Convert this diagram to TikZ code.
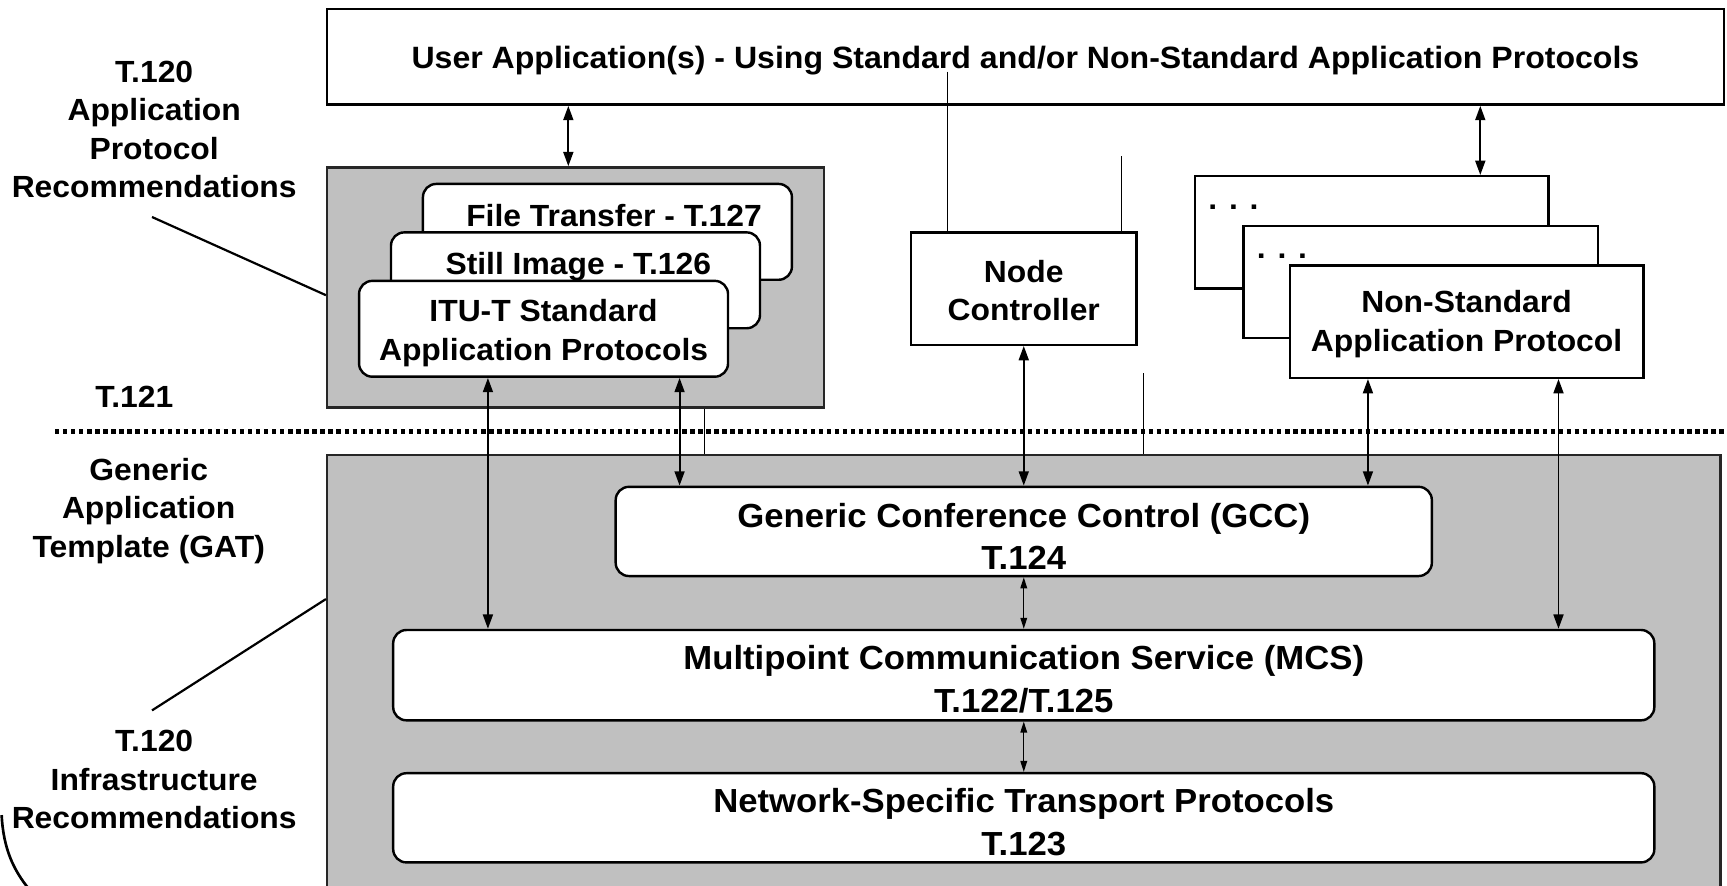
\documentclass[tikz,border=0pt]{standalone}
\usepackage{fontspec}
\setmainfont{Liberation Sans}[FakeStretch=1.04]
\usetikzlibrary{arrows.meta}
\definecolor{boxgray}{HTML}{C0C0C0}
\tikzset{
  lbl/.style={font=\bfseries\fontsize{27.8}{35}\selectfont, align=center, inner sep=0pt},
  big/.style={font=\bfseries\fontsize{30.3}{39}\selectfont, align=center, inner sep=0pt},
  sq/.style={draw=black, line width=2.2pt, fill=white, inner sep=0pt},
  rnd/.style={sq, rounded corners=12pt},
  graybox/.style={draw=black!85, line width=2.2pt, fill=boxgray, inner sep=0pt},
  dbl/.style={line width=1.8pt, {Triangle[length=13pt,width=9pt]}-{Triangle[length=13pt,width=9pt]}},
  sdbl/.style={line width=1.3pt, {Triangle[length=10pt,width=6pt]}-{Triangle[length=10pt,width=6pt]}},
  hair/.style={line width=1pt},
  callout/.style={line width=2pt},
  sepline/.style={line width=4.5pt, dash pattern=on 3.9pt off 3.4pt},
}
\begin{document}
\begin{tikzpicture}[x=1pt, y=-1pt]
\useasboundingbox (0,0) rectangle (1568,804);
% gray containers
\node[graybox, minimum width=451pt, minimum height=218pt] (appbox) at (522.5,261) {};
\node[graybox, minimum width=1265pt, minimum height=417pt] (gat) at (929.5,621.5) {};
% user application
\node[sq, minimum width=1268pt, minimum height=87pt] (ua) at (931,51.5) {};
\node[lbl, font=\bfseries\fontsize{28}{35}\selectfont] (uat) at (931,55) {User Application(s) - Using Standard and/or Non-Standard Application Protocols};
% standard application protocol stack
\node[rnd, minimum width=335pt, minimum height=87pt] (ft) at (551.5,210.5) {};
\node[lbl] (ftt) at (557.5,195.5) {File Transfer - T.127};
\node[rnd, minimum width=335pt, minimum height=87pt] (si) at (522.5,254.5) {};
\node[lbl] (sit) at (525,242) {Still Image - T.126};
\node[rnd, minimum width=335pt, minimum height=87pt] (itu) at (493.5,298.5) {};
\node[lbl] (itut) at (493.5,302.5) {ITU-T Standard\\Application Protocols};
% node controller
\node[sq, minimum width=205pt, minimum height=102pt] (nc) at (929.5,262) {};
\node[lbl] (nct) at (929.5,264) {Node\\Controller};
% non-standard stack
\node[sq, minimum width=321pt, minimum height=102pt] (nsb) at (1245.5,211) {};
\node[lbl, anchor=west] (nsbd) at (1097,188) {. . .};
\node[sq, minimum width=322pt, minimum height=102pt] (nsm) at (1290,256) {};
\node[lbl, anchor=west] (nsmd) at (1141,233) {. . .};
\node[sq, minimum width=321pt, minimum height=102pt] (nsf) at (1331.5,292) {};
\node[lbl] (nsft) at (1331.5,294) {Non-Standard\\Application Protocol};
% GAT layers
\node[rnd, minimum width=741pt, minimum height=81pt] (gcc) at (929.5,482.5) {};
\node[big] (gcct) at (929.5,487) {Generic Conference Control (GCC)\\T.124};
\node[rnd, minimum width=1145pt, minimum height=82pt] (mcs) at (929.5,613) {};
\node[big] (mcst) at (929.5,617) {Multipoint Communication Service (MCS)\\T.122/T.125};
\node[rnd, minimum width=1145pt, minimum height=81pt] (net) at (929.5,742.5) {};
\node[big] (nett) at (929.5,746.5) {Network-Specific Transport Protocols\\T.123};
% left labels
\node[lbl] (t120a) at (140,117.5) {T.120\\Application\\Protocol\\Recommendations};
\node[lbl] (t121) at (122,360) {T.121};
\node[lbl] (gatl) at (135,464) {Generic\\Application\\Template (GAT)};
\node[lbl] (t120i) at (140,708) {T.120\\Infrastructure\\Recommendations};
% callouts
\coordinate (c1) at (138,197);
\draw[callout] (c1) -- ([yshift=-7pt]appbox.west);
\coordinate (c2) at (138,645);
\draw[callout] (c2) -- ([yshift=-132pt]gat.north west);
\draw[line width=2.4pt] (1.5,740) .. controls (3,770) and (12,790) .. (27,808);
% thin lines
\coordinate (h1) at ([xshift=-69.5pt]nc.north);
\coordinate (h1e) at (860,65);
\draw[hair] (h1e) -- (h1);
\coordinate (h2) at ([xshift=88.5pt]nc.north);
\coordinate (h2e) at (1018,142);
\draw[hair] (h2e) -- (h2);
\coordinate (h3) at (1038,339);
\draw[hair] (h3) -- (h3 |- gat.north);
\coordinate (h4) at ([xshift=117.5pt]appbox.south);
\draw[hair] (h4) -- (h4 |- gat.north);
% separator
\draw[sepline] (50,392) -- (1568,392);
% arrows
\coordinate (a1) at ([xshift=-415pt]ua.south);
\draw[dbl] (a1) -- (a1 |- appbox.north);
\coordinate (a2) at ([xshift=413pt]ua.south);
\draw[dbl] (a2) -- (a2 |- nsb.north);
\coordinate (a3) at ([xshift=-50.5pt]itu.south);
\draw[dbl] (a3) -- (a3 |- mcs.north);
\coordinate (a4) at ([xshift=123.5pt]itu.south);
\draw[dbl] (a4) -- (a4 |- gcc.north);
\draw[dbl] (nc.south) -- (nc.south |- gcc.north);
\coordinate (a5) at ([xshift=-89.5pt]nsf.south);
\draw[dbl] (a5) -- (a5 |- gcc.north);
\coordinate (a6) at ([xshift=83.5pt]nsf.south);
\draw[dbl] (a6) -- (a6 |- mcs.north);
\draw[sdbl] (gcc.south) -- (gcc.south |- mcs.north);
\draw[sdbl] (mcs.south) -- (mcs.south |- net.north);
\end{tikzpicture}
\end{document}
